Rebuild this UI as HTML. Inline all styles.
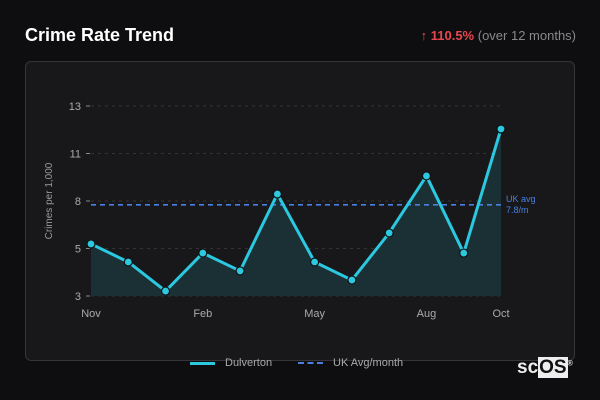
<!DOCTYPE html>
<html><head><meta charset="utf-8"><style>
body{margin:0;width:600px;height:400px;background:#0e0e11;font-family:"Liberation Sans",sans-serif;overflow:hidden;position:relative}
.t{position:absolute}
</style></head><body>
<div class="t" style="left:25px;top:25px;color:#fff;font-size:18px;font-weight:bold">Crime Rate Trend</div>
<div class="t" style="right:24px;top:28px;font-size:13px;color:#888"><span style="color:#e5484d;font-weight:bold">↑ 110.5%</span> (over 12 months)</div>
<div class="t" style="left:25px;top:61px;width:548px;height:298px;border:1px solid #34343a;border-radius:6px;background:#18181b"></div>
<svg class="t" style="left:0;top:0" width="600" height="400">
<g id="grid"></g><g id="area"></g><g id="marks"></g>
<text x="52" y="201" transform="rotate(-90 52 201)" text-anchor="middle" fill="#999" font-size="10" font-family="Liberation Sans">Crimes per 1,000</text>
</svg>
<div class="t" style="left:190px;top:357px;font-size:11px;color:#aaa">
<span style="position:absolute;left:0;top:0;white-space:nowrap"><span style="display:inline-block;width:25px;height:3px;background:#2bc8e0;vertical-align:middle;margin-right:10px"></span>Dulverton</span>
<span style="position:absolute;left:108px;top:0;white-space:nowrap"><span style="display:inline-block;width:25px;border-top:2px dashed #4a7fe0;vertical-align:middle;margin-right:10px"></span>UK Avg/month</span>
</div>
<div class="t" style="left:517px;top:357px;font-size:19px;font-weight:bold;color:#eee;letter-spacing:0">sc<span style="background:#eee;color:#111;padding:0 1px">OS</span><sup style="font-size:7px">®</sup></div>
<script>
const months=["Nov","Dec","Jan","Feb","Mar","Apr","May","Jun","Jul","Aug","Sep","Oct"];
const values=[5.74,4.79,3.26,5.26,4.32,8.37,4.79,3.84,6.32,9.32,5.26,11.79];
const ukAvg=[7.8];
const yTicks=[3,5.5,8,10.5,13];
const yTickLabels=["3","5","8","11","13"];
const xTickIdx=[0,3,6,9,11];
const NS="http://www.w3.org/2000/svg";
const x0=91,x1=501,yMin=3,yMax=13,py0=296,py1=106;
const X=i=>x0+i*(x1-x0)/(months.length-1);
const Y=v=>py0-(v-yMin)*(py0-py1)/(yMax-yMin);
function mk(tag,at,parent){const e=document.createElementNS(NS,tag);for(const k in at)e.setAttribute(k,at[k]);document.getElementById(parent).appendChild(e);return e;}
yTicks.forEach((t,i)=>{
 const g=mk("line",{x1:91,x2:501,y1:Y(t),y2:Y(t),stroke:"#333",
"stroke-dasharray":"3 4","stroke-width":1},"grid");
 
 
 const tk=mk("line",{x1:86,x2:90,y1:Y(t),y2:Y(t),stroke:"#888"},"grid");
 
 
 const l=mk("text",{x:81,y:Y(t)+4,"text-anchor":"end",fill:"#aaa","font-size":11,"font-family":"Liberation Sans"},"grid");
 l.textContent=yTickLabels[i];
 
 
});
xTickIdx.forEach(i=>{
 const l=mk("text",{x:X(i),y:317,"text-anchor":"middle",fill:"#aaa","font-size":11,"font-family":"Liberation Sans"},"grid");
 l.textContent=months[i];
 
 
});
const pts=values.map((v,i)=>X(i)+","+Y(v));
const a=mk("polygon",{points:X(0)+","+py0+" "+pts.join(" ")+" "+X(values.length-1)+","+py0,fill:"#1b3338",opacity:0.9},"area");


const uk=mk("line",{x1:91,x2:501,y1:Y(ukAvg[0]),y2:Y(ukAvg[0]),stroke:"#4a7fe0","stroke-width":1.6,"stroke-dasharray":"5 4"},"marks");


const ul=mk("text",{x:506,y:Y(ukAvg[0])-3,fill:"#4a7fe0","font-size":9,"font-family":"Liberation Sans"},"marks");
ul.textContent="UK avg";


const ul2=mk("text",{x:506,y:Y(ukAvg[0])+8,fill:"#4a7fe0","font-size":9,"font-family":"Liberation Sans"},"marks");
ul2.textContent=ukAvg[0]+"/m";


const ln=mk("polyline",{points:pts.join(" "),fill:"none",stroke:"#2bc8e0","stroke-width":3,"stroke-linejoin":"round"},"marks");


values.forEach((v,i)=>{
 const c=mk("circle",{cx:X(i),cy:Y(v),r:4,fill:"#2bc8e0",stroke:"#111","stroke-width":1.2},"marks");
 
 
});
</script>
</body></html>
